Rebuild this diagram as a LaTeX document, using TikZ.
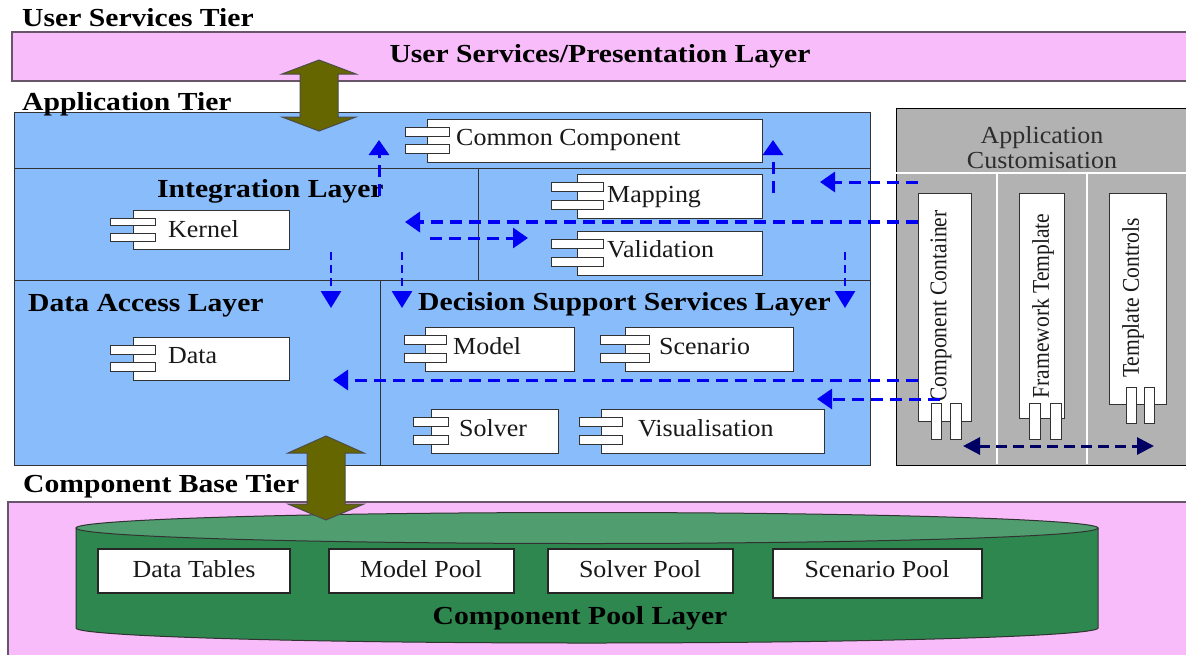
\documentclass[tikz,border=0pt]{standalone}
\usepackage{fontspec}
\newfontfamily\rfam{Liberation Serif}[FakeStretch=1.06]
\newfontfamily\bfam{Liberation Serif}[FakeStretch=1.14]
\newfontfamily\vfam{Liberation Serif}[FakeStretch=0.9]
\usetikzlibrary{arrows.meta}

\definecolor{pinkbg}{RGB}{248,188,250}
\definecolor{pinkedge}{RGB}{105,85,105}
\definecolor{bluebg}{RGB}{136,188,250}
\definecolor{greybg}{RGB}{178,178,178}
\definecolor{olivec}{RGB}{102,102,0}
\definecolor{greenbody}{RGB}{46,135,78}
\definecolor{greentop}{RGB}{80,158,112}
\definecolor{dashblue}{RGB}{0,0,245}
\definecolor{navyc}{RGB}{0,0,100}
\definecolor{edgec}{RGB}{50,50,50}
\definecolor{txtc}{RGB}{25,25,25}
\definecolor{custc}{RGB}{45,45,45}

\tikzset{
  tierlbl/.style={font=\bfam\bfseries\fontsize{26}{28}\selectfont, text=black, inner sep=0pt, anchor=base west},
  lbl/.style={font=\rfam\fontsize{24.5}{26}\selectfont, text=txtc, inner sep=0pt, anchor=base west},
  vlbl/.style={font=\vfam\fontsize{24}{26}\selectfont, text=txtc, inner sep=0pt, rotate=90},
  custlbl/.style={font=\rfam\fontsize{24.5}{26}\selectfont, text=custc, inner sep=0pt, anchor=base},
  compbox/.style={draw=edgec, fill=white, line width=1pt},
  poolbox/.style={draw=black!85, fill=white, line width=1.5pt},
  flow/.style={draw=dashblue, line width=3pt, dash pattern=on 12pt off 7pt, -{Triangle[length=15pt,width=20pt]}},
  thinflow/.style={draw=dashblue, line width=2.7pt, dash pattern=on 8pt off 5pt, -{Triangle[length=17pt,width=20pt]}},
  navyflow/.style={draw=navyc, line width=3pt, dash pattern=on 11pt off 6pt, {Triangle[length=17pt,width=17pt]}-{Triangle[length=17pt,width=17pt]}},
  olivearrow/.style={draw=black!70, fill=olivec, line width=1pt, line join=miter},
  divider/.style={draw=edgec, line width=1pt},
  whiteline/.style={draw=white, line width=1.3pt}
}

\newcommand\umlcomp[6]{%
  \path[compbox] (#2,#3) rectangle (#4,#5);
  \coordinate (#1) at ({(#2+#4)/2},{(#3+#5)/2});
  \path[compbox] ({#2-#6},{#3+0.2*(#5-#3)}) rectangle ({#2+#6},{#3+0.4*(#5-#3)});
  \path[compbox] ({#2-#6},{#3+0.6*(#5-#3)}) rectangle ({#2+#6},{#3+0.8*(#5-#3)});
}

\begin{document}
\begin{tikzpicture}[x=1pt, y=-1pt]
\useasboundingbox (0,0) rectangle (1186,654);
\fill[white] (0,0) rectangle (1186,654);

% ---------- tiers ----------
\path[fill=pinkbg, draw=pinkedge, line width=1.2pt] (12,32) rectangle (1192,81);
\path[fill=pinkbg, draw=pinkedge, line width=1.2pt] (8,502) rectangle (1192,662);

% application tier blue area
\path[fill=bluebg, draw=edgec, line width=1pt] (14,112) rectangle (870,465);
\draw[divider] (14,168) -- (870,168);
\draw[divider] (14,280) -- (870,280);
\draw[divider] (478,168) -- (478,280);
\draw[divider] (380,280) -- (380,465);

% application customisation grey area
\path[fill=greybg, draw=black, line width=1pt] (896,108) rectangle (1192,465);
\draw[whiteline] (896,173) -- (1188,173);
\draw[whiteline] (997,173) -- (997,464);
\draw[whiteline] (1087,173) -- (1087,464);

% ---------- component pool cylinder ----------
\path[draw=edgec, fill=greenbody, line width=1pt] (76,528) -- (76,628)
   arc[start angle=180, end angle=360, x radius=511pt, y radius=15pt] -- (1098,528) -- cycle;
\path[draw=edgec, fill=greentop, line width=1pt] (587,528) ellipse[x radius=511pt, y radius=15.5pt];

\path[poolbox] (98,549) rectangle (290,593);
\path[poolbox] (329,549) rectangle (514,593);
\path[poolbox] (548,549) rectangle (733,593);
\path[poolbox] (773,549) rectangle (982,598);
\node[lbl, anchor=base] (dtab) at (194,577) {Data Tables};
\node[lbl, anchor=base] (mpool) at (421,577) {Model Pool};
\node[lbl, anchor=base] (spool) at (640,577) {Solver Pool};
\node[lbl, anchor=base] (scpool) at (877,577) {Scenario Pool};

% ---------- UML components ----------
\umlcomp{cc}{427}{119}{762}{162}{22}
\umlcomp{kern}{133}{210.5}{289}{249}{22.5}
\umlcomp{mapc}{577}{174}{762}{218}{26}
\umlcomp{valc}{577}{231}{762}{275}{26}
\umlcomp{datac}{133}{337}{289}{380}{22.5}
\umlcomp{modc}{425}{327}{574}{371}{21}
\umlcomp{scenc}{625}{327}{793}{371}{24.5}
\umlcomp{solc}{431}{409}{558}{453}{17.5}
\umlcomp{visc}{601}{409}{824}{453}{21.5}

\node[lbl] (ccl) at (456,145) {Common Component};
\node[lbl] (kernl) at (168,237) {Kernel};
\node[lbl] (mapl) at (607,202) {Mapping};
\node[lbl] (vall) at (607,257) {Validation};
\node[lbl] (datal) at (168,363) {Data};
\node[lbl] (modl) at (453,354) {Model};
\node[lbl] (scenl) at (659,354) {Scenario};
\node[lbl] (soll) at (459,436) {Solver};
\node[lbl] (visl) at (638,436) {Visualisation};

% ---------- customisation containers ----------
\path[compbox] (918,193) rectangle (971,421);
\path[compbox] (931,403) rectangle (941,439);
\path[compbox] (950,403) rectangle (961,439);
\path[compbox] (1019,193) rectangle (1064,418);
\path[compbox] (1029,403) rectangle (1040,439);
\path[compbox] (1050,403) rectangle (1061,439);
\path[compbox] (1109,193) rectangle (1166,404);
\path[compbox] (1126,387) rectangle (1136,423);
\path[compbox] (1144,387) rectangle (1154,423);

\node[vlbl] (cont) at (941,306) {Component Container};
\node[vlbl] (frame) at (1043,306) {Framework Template};
\node[vlbl] (tctrl) at (1133,298) {Template Controls};

\node[custlbl] (acust1) at (1042,143) {Application};
\node[custlbl] (acust2) at (1042,168) {Customisation};

% ---------- tier / layer labels ----------
\node[tierlbl] (ust) at (22,26) {User Services Tier};
\node[tierlbl, anchor=base] (usp) at (600,62) {User Services/Presentation Layer};
\node[tierlbl] (apt) at (22,110) {Application Tier};
\node[tierlbl] (intl) at (157,197) {Integration Layer};
\node[tierlbl] (dal) at (28,311) {Data Access Layer};
\node[tierlbl] (dssl) at (418,310) {Decision Support Services Layer};
\node[tierlbl] (cbt) at (23,492) {Component Base Tier};
\node[tierlbl, anchor=base] (cpl) at (580,624) {Component Pool Layer};

% ---------- dashed flows ----------
\coordinate (u1s) at (379,196); \coordinate (u1e) at (379,140);
\coordinate (u2s) at (773,193); \coordinate (u2e) at (773,140);
\coordinate (l1s) at (918,182); \coordinate (l1e) at (820,182);
\coordinate (l2s) at (918,222); \coordinate (l2e) at (405,222);
\coordinate (r1s) at (430,238); \coordinate (r1e) at (528,238);
\coordinate (d1s) at (402,252); \coordinate (d1e) at (402,308);
\coordinate (d2s) at (331,252); \coordinate (d2e) at (331,308);
\coordinate (d3s) at (845,252); \coordinate (d3e) at (845,308);
\coordinate (l3s) at (918,380); \coordinate (l3e) at (333,380);
\coordinate (l4s) at (940,399); \coordinate (l4e) at (817,399);
\coordinate (n1s) at (963,446); \coordinate (n1e) at (1154,446);

\draw[flow] (u1s) -- (u1e);
\draw[flow] (u2s) -- (u2e);
\draw[flow] (l1s) -- (l1e);
\draw[flow, line width=3.5pt] (l2s) -- (l2e);
\draw[flow] (r1s) -- (r1e);
\draw[thinflow] (d1s) -- (d1e);
\draw[thinflow] (d2s) -- (d2e);
\draw[thinflow] (d3s) -- (d3e);
\draw[flow] (l3s) -- (l3e);
\draw[flow] (l4s) -- (l4e);
\draw[navyflow] (n1s) -- (n1e);

% ---------- olive double arrows ----------
\draw[olivearrow] (319,60) -- (356,74) -- (338,74) -- (338,117) -- (356,117) -- (319,131)
   -- (282,117) -- (300,117) -- (300,74) -- (282,74) -- cycle;
\draw[olivearrow] (326,436) -- (364,453) -- (345,453) -- (345,504) -- (364,504) -- (326,520)
   -- (288,504) -- (307,504) -- (307,453) -- (288,453) -- cycle;
\end{tikzpicture}
\end{document}
